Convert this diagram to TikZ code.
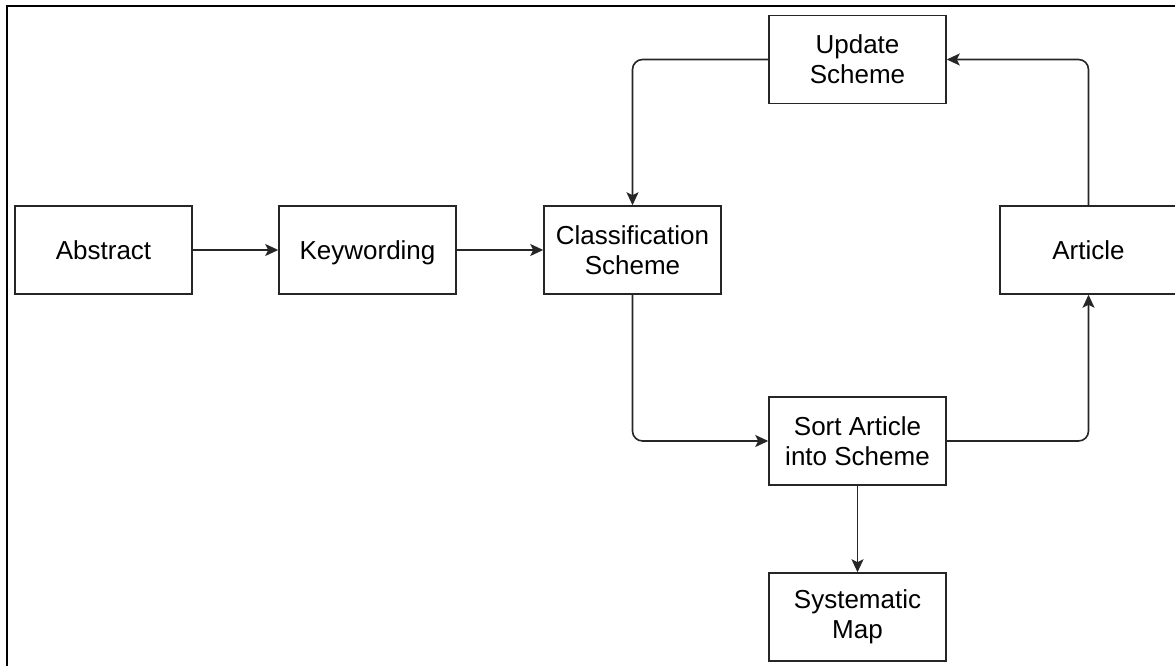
\documentclass[tikz,border=0pt]{standalone}
\usepackage{fontspec}
\setmainfont{Liberation Sans}
\usetikzlibrary{arrows.meta}
\begin{document}
\begin{tikzpicture}[x=1pt,y=-1pt,
  box/.style={draw=black!85, line width=1.5pt, minimum width=177pt,
    minimum height=88pt, align=center, inner sep=0pt,
    font=\fontsize{26}{30}\selectfont},
  link/.style={draw=black!85, line width=1.6pt, rounded corners=10pt,
    -{Stealth[length=13pt,width=12pt,inset=3pt]}},
  frame/.style={draw=black, line width=2pt}]
\useasboundingbox (0,0) rectangle (1175,666);
% outer frame edges
\coordinate (fbl) at (7,667);
\coordinate (ftl) at (7,6);
\coordinate (ftr) at (1176,6);
\draw[frame] (fbl) -- (ftl) -- (ftr);

% process boxes
\node[box] (abstract) at (103.5,250) {Abstract};
\node[box, text depth=0pt] (keyword) at (367.5,250) {Keywording};
\node[box] (class)    at (632.5,250) {Classification\\Scheme};
\node[box] (article)  at (1088.5,250) {Article};
\node[box] (update)   at (857.5,59.5) {Update\\Scheme};
\node[box] (sort)     at (857.5,441) {Sort Article\\into Scheme};
\node[box] (map)      at (857.5,617) {Systematic\\Map};

% flow
\draw[link] (abstract) -- (keyword);
\draw[link] (keyword) -- (class);
\draw[link] (class.south) |- (sort.west);
\draw[link] (sort.east) -| (article.south);
\draw[link] (article.north) |- (update.east);
\draw[link] (update.west) -| (class.north);
\draw[link] (sort) -- (map);
\end{tikzpicture}
\end{document}
